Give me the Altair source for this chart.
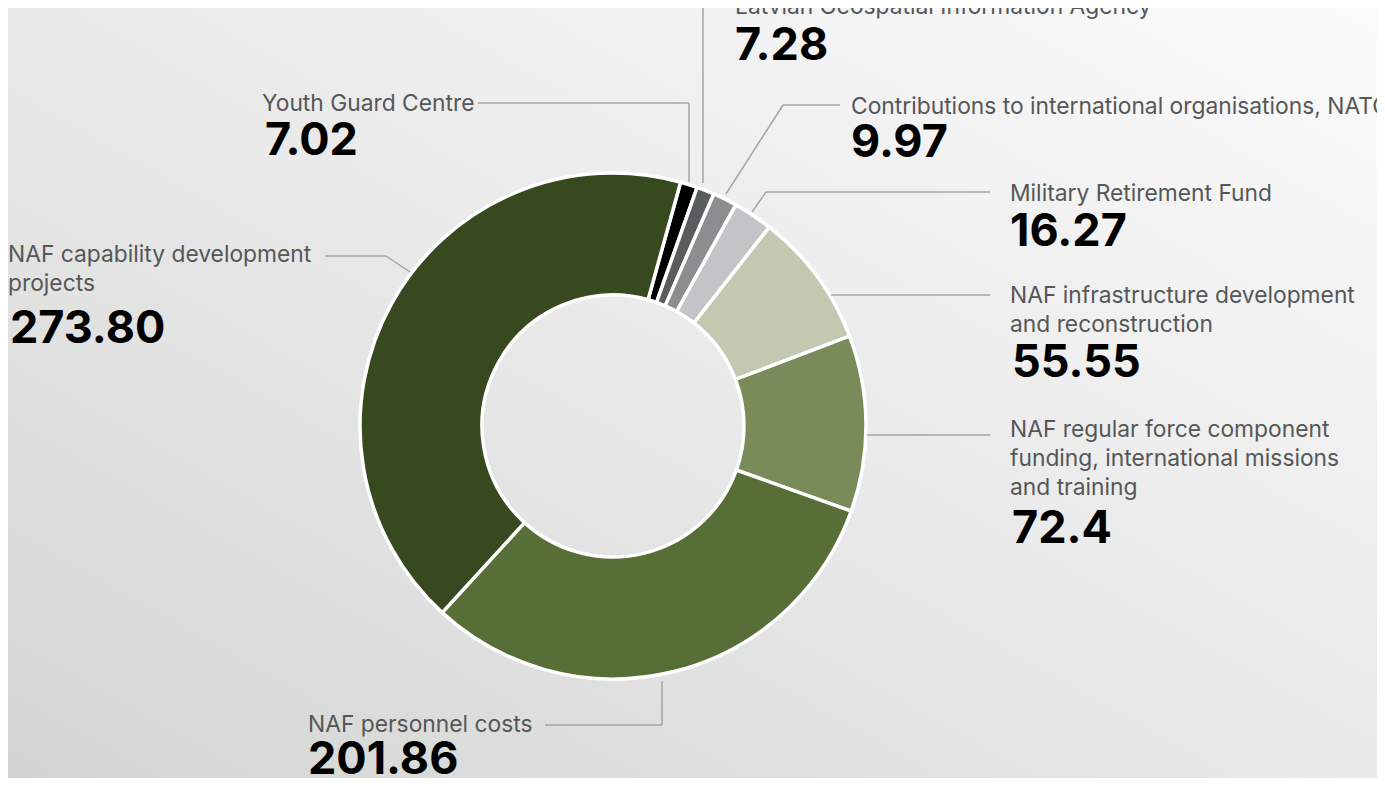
import math
import altair as alt
import pandas as pd

# ---------------- data ----------------
categories = [
    "Youth Guard Centre",
    "Latvian Geospatial Information Agency",
    "Contributions to international organisations, NATO",
    "Military Retirement Fund",
    "NAF infrastructure development and reconstruction",
    "NAF regular force component funding, international missions and training",
    "NAF personnel costs",
    "NAF capability development projects",
]
values = [7.02, 7.28, 9.97, 16.27, 55.55, 72.4, 201.86, 273.80]
value_labels = ["7.02", "7.28", "9.97", "16.27", "55.55", "72.4", "201.86", "273.80"]
label_lines = [
    "Youth Guard Centre",
    "Latvian Geospatial Information Agency",
    "Contributions to international organisations, NATO",
    "Military Retirement Fund",
    "NAF infrastructure development\nand reconstruction",
    "NAF regular force component\nfunding, international missions\nand training",
    "NAF personnel costs",
    "NAF capability development\nprojects",
]
colors = ["#000000", "#595d5d", "#8b8e8e", "#c2c4c6", "#c3c8b1", "#788b59", "#576f37", "#37491e"]

# ---------------- layout (page px) ----------------
M = 8
W, H = 1369, 770
CX, CY = 613, 426
R_OUT, R_IN = 253, 131
START = math.radians(15.5)

# label anchor (x, baseline of first text line) and value baseline
label_pos = [(262, 111), (735, 14), (851, 114), (1010, 201), (1010, 303), (1010, 437), (308, 732), (8, 262)]
value_pos = [(265, 155), (735, 60), (851, 157), (1010, 246), (1012, 377), (1012, 543), (308, 774), (10, 343)]
leaders = [
    [(478, 103), (689, 103), (689, 182)],
    [(722, 7), (703, 7), (703, 183)],
    [(840, 105), (783, 105), (726, 194)],
    [(990, 192), (766, 192), (752, 212)],
    [(990, 295), (831, 295)],
    [(990, 435), (867, 435)],
    [(545, 725), (662, 725), (662, 681)],
    [(325, 256), (386, 256), (410, 272)],
]

# ---------------- tables ----------------
pie_df = pd.DataFrame({"category": categories, "value": values, "order": list(range(len(values)))})

lab_df = pd.DataFrame({
    "x": [p[0] - M for p in label_pos],
    "y": [p[1] - M for p in label_pos],
    "text": label_lines,
})
val_df = pd.DataFrame({
    "x": [p[0] - M for p in value_pos],
    "y": [p[1] - M for p in value_pos],
    "text": value_labels,
})
seg_rows = []
for pts in leaders:
    for (a, b) in zip(pts[:-1], pts[1:]):
        seg_rows.append({"x": a[0] - M, "y": a[1] - M, "x2": b[0] - M, "y2": b[1] - M})
seg_df = pd.DataFrame(seg_rows)

xs = alt.Scale(domain=[0, W], range=[0, W])
ys = alt.Scale(domain=[0, H], range=[0, H])

bg = alt.Chart(pd.DataFrame({"a": [0]})).mark_rect(
    color={
        "gradient": "linear",
        "x1": 0, "y1": 1, "x2": 1, "y2": 0,
        "stops": [
            {"offset": 0, "color": "#d3d5d3"},
            {"offset": 0.5, "color": "#e8e9e8"},
            {"offset": 1, "color": "#fbfbfb"},
        ],
    }
).encode(x=alt.value(0), x2=alt.value(W), y=alt.value(0), y2=alt.value(H))

donut = alt.Chart(pie_df).mark_arc(
    innerRadius=R_IN, outerRadius=R_OUT, stroke="white", strokeWidth=3.5
).encode(
    theta=alt.Theta("value:Q", stack=True, scale=alt.Scale(range=[START, START + 2 * math.pi])),
    color=alt.Color("category:N", scale=alt.Scale(domain=categories, range=colors), legend=None),
    order=alt.Order("order:Q"),
    x=alt.value(CX - M),
    y=alt.value(CY - M),
)

rules = alt.Chart(seg_df).mark_rule(color="#a4a4a4", strokeWidth=1.5).encode(
    x=alt.X("x:Q", scale=xs, axis=None),
    y=alt.Y("y:Q", scale=ys, axis=None),
    x2="x2:Q",
    y2="y2:Q",
)

labels = alt.Chart(lab_df).mark_text(
    align="left", baseline="alphabetic", font="Inter", fontSize=22.8,
    color="#555757", lineBreak="\n", lineHeight=29,
).encode(
    x=alt.X("x:Q", scale=xs, axis=None),
    y=alt.Y("y:Q", scale=ys, axis=None),
    text="text:N",
)

nums = alt.Chart(val_df).mark_text(
    align="left", baseline="alphabetic", font="Inter", fontSize=45,
    fontWeight="bold", color="#000000",
).encode(
    x=alt.X("x:Q", scale=xs, axis=None),
    y=alt.Y("y:Q", scale=ys, axis=None),
    text="text:N",
)

chart = alt.layer(bg, donut, rules, labels, nums).properties(
    width=W, height=H, padding=0, autosize=alt.AutoSizeParams(type="none")
).configure_view(stroke=None)

chart.save("out.html", embed_options={"renderer": "svg", "actions": False})
